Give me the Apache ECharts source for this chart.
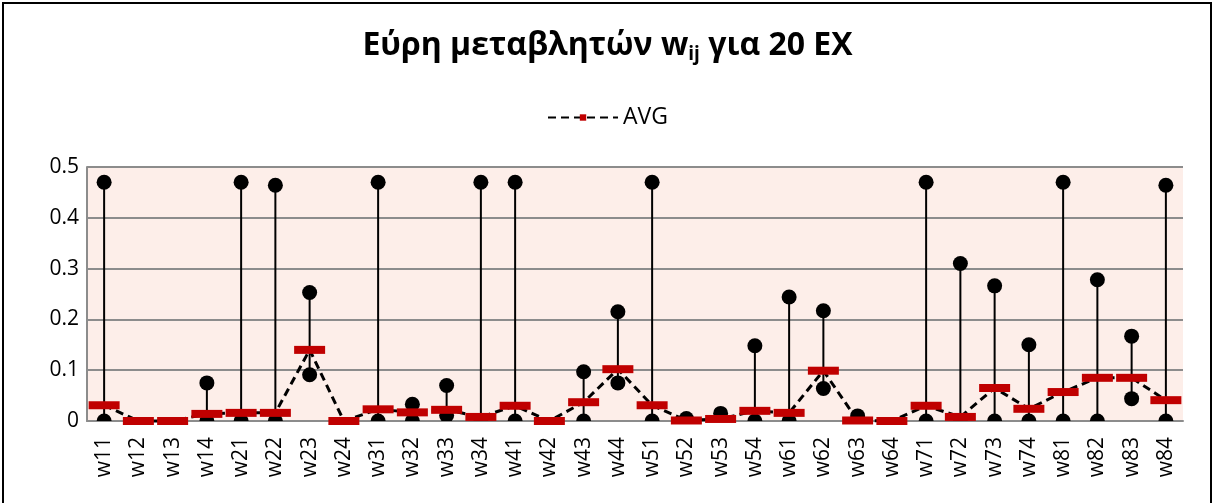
<!DOCTYPE html>
<html>
<head>
<meta charset="utf-8">
<script src="https://cdn.jsdelivr.net/npm/echarts@6/dist/echarts.min.js"></script>
<style>
  html, body { margin: 0; padding: 0; background: #fff; }
  #chart { width: 1215px; height: 503px; }
</style>
</head>
<body>
<div id="chart"></div>
<script>
// Εύρη μεταβλητών w_ij - min/max με κύκλους, μέσος όρος (AVG) με κόκκινη παύλα

const CATEGORIES = ['w11', 'w12', 'w13', 'w14', 'w21', 'w22', 'w23', 'w24',
  'w31', 'w32', 'w33', 'w34', 'w41', 'w42', 'w43', 'w44',
  'w51', 'w52', 'w53', 'w54', 'w61', 'w62', 'w63', 'w64',
  'w71', 'w72', 'w73', 'w74', 'w81', 'w82', 'w83', 'w84'];

const MAX_VALS = [0.470, null, null, 0.075, 0.470, 0.464, 0.253, null,
  0.470, 0.033, 0.070, 0.470, 0.470, null, 0.097, 0.215,
  0.470, 0.005, 0.015, 0.148, 0.244, 0.217, 0.010, null,
  0.470, 0.310, 0.266, 0.150, 0.470, 0.278, 0.167, 0.464];

const MIN_VALS = [0, null, null, 0, 0, 0, 0.091, null,
  0, 0, 0.011, 0, 0, null, 0, 0.075,
  0, null, null, 0, 0, 0.064, null, null,
  0, 0, 0, 0, 0, 0, 0.044, 0];

const AVG_VALS = [0.031, 0, 0, 0.014, 0.016, 0.016, 0.140, 0,
  0.023, 0.017, 0.022, 0.008, 0.030, 0, 0.037, 0.102,
  0.031, 0.001, 0.004, 0.020, 0.016, 0.099, 0.001, 0,
  0.030, 0.008, 0.065, 0.024, 0.057, 0.085, 0.085, 0.041];

const Y_TICKS = { min: 0, max: 0.5, interval: 0.1 };

const COLORS = {
  text: '#000000', grid: '#8c8c8c', plotBg: '#fdeee9',
  avg: '#c00000', dot: '#000000',
};
const FONT = "'Open Sans', 'Noto Sans', sans-serif";

const chart = echarts.init(document.getElementById('chart'));

function rangeItem(params, api) {
  const lo = api.value(1), hi = api.value(2);
  const kids = [];
  const r = 7.5;
  const pHi = isNaN(hi) ? null : api.coord([api.value(0), hi]);
  const pLo = isNaN(lo) ? null : api.coord([api.value(0), lo]);
  if (pHi && pLo) {
    kids.push({ type: 'line', shape: { x1: pLo[0], y1: pLo[1], x2: pHi[0], y2: pHi[1] },
      style: { stroke: COLORS.dot, lineWidth: 2 } });
  }
  [pLo, pHi].forEach(p => {
    if (p) kids.push({ type: 'circle', shape: { cx: p[0], cy: p[1], r }, style: { fill: COLORS.dot } });
  });
  return { type: 'group', children: kids };
}

chart.setOption({
  backgroundColor: '#fff',
  animation: false,
  textStyle: { fontFamily: FONT, color: COLORS.text },
  title: {
    text: 'Εύρη μεταβλητών w{sub|ij} για 20 ΕΧ',
    left: 'center', top: 22,
    textStyle: {
      fontFamily: FONT, fontSize: 32, fontWeight: 'bold', color: COLORS.text,
      rich: { sub: { fontFamily: FONT, fontSize: 19, fontWeight: 'bold', padding: [18, 0, 0, 0] } },
    },
  },
  legend: {
    top: 101, left: 'center',
    itemWidth: 70, itemHeight: 8, itemGap: 7,
    textStyle: { fontFamily: FONT, fontSize: 23, color: COLORS.text },
    data: ['AVG'],
  },
  graphic: [{
    type: 'rect', silent: true,
    shape: { x: 3, y: 3, width: 1208, height: 520 },
    style: { fill: 'none', stroke: '#000', lineWidth: 2 },
  }],
  grid: { left: 87, right: 32, top: 167, bottom: 82, containLabel: false,
    show: true, backgroundColor: COLORS.plotBg, borderWidth: 0 },
  xAxis: {
    type: 'category', data: CATEGORIES,
    axisLine: { lineStyle: { color: COLORS.grid, width: 2 } },
    axisTick: { show: false },
    axisLabel: { rotate: 90, margin: 16, fontFamily: FONT, fontSize: 21, color: COLORS.text, interval: 0 },
  },
  yAxis: {
    type: 'value', min: Y_TICKS.min, max: Y_TICKS.max, interval: Y_TICKS.interval,
    axisLine: { show: true, lineStyle: { color: COLORS.grid, width: 2 } },
    axisTick: { show: false },
    axisLabel: { margin: 8, fontFamily: FONT, fontSize: 21, color: COLORS.text,
      formatter: v => (v === 0 ? '0' : v.toFixed(1)) },
    splitLine: { lineStyle: { color: COLORS.grid, width: 2 } },
  },
  series: [
    {
      name: 'range', type: 'custom', clip: true, z: 2,
      renderItem: rangeItem,
      encode: { x: 0, y: [1, 2] },
      data: CATEGORIES.map((c, i) => [i, MIN_VALS[i] == null ? NaN : MIN_VALS[i], MAX_VALS[i] == null ? NaN : MAX_VALS[i]]),
    },
    {
      name: 'AVG', type: 'line', clip: false, z: 3,
      data: AVG_VALS,
      symbol: 'rect', symbolSize: [31, 8],
      itemStyle: { color: COLORS.avg },
      lineStyle: { color: '#000', width: 3, type: [8, 5] },
    },
  ],
});
</script>
</body>
</html>
